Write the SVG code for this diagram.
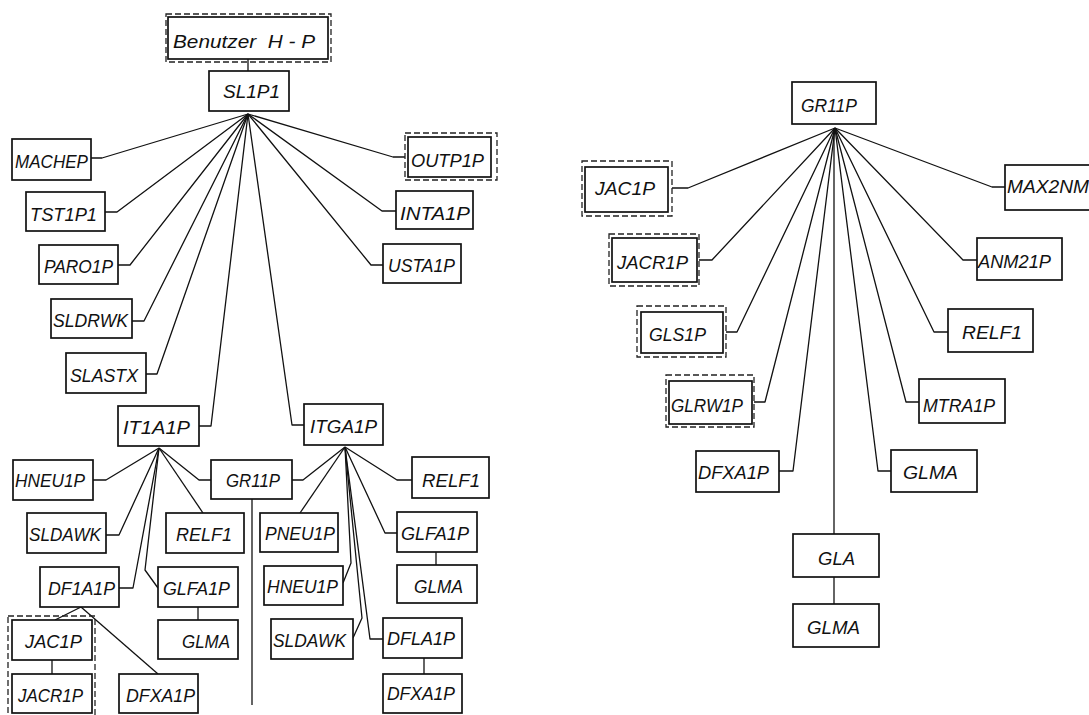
<svg xmlns="http://www.w3.org/2000/svg" width="1089" height="715" viewBox="0 0 1089 715">
<style>
.bg{fill:#fff}
.box{fill:#fff;stroke:#111;stroke-width:1.7}
.dash{fill:none;stroke:#222;stroke-width:1.3;stroke-dasharray:6 3}
.ln{fill:none;stroke:#111;stroke-width:1.3;stroke-linejoin:round}
text{font-family:"Liberation Sans",Arial,sans-serif;font-style:italic;font-size:19px;fill:#111}
</style>
<rect class="bg" x="0" y="0" width="1089" height="715"/>
<g id="connectors">
<polyline class="ln" points="248,59 248,71"/>
<polyline class="ln" points="248,114 102,158 91,158"/>
<polyline class="ln" points="248,114 117,212 105,212"/>
<polyline class="ln" points="248,114 130,265 118,265"/>
<polyline class="ln" points="248,114 144,321 132,321"/>
<polyline class="ln" points="248,114 157,374 146,374"/>
<polyline class="ln" points="248,114 211,426 199,426"/>
<polyline class="ln" points="248,114 292,425 304,425"/>
<polyline class="ln" points="248,114 371,265 383,265"/>
<polyline class="ln" points="248,114 382,211 396,211"/>
<polyline class="ln" points="248,114 393,157 405,157"/>
<polyline class="ln" points="159,448 106,480 93,480"/>
<polyline class="ln" points="159,448 199,480 211,480"/>
<polyline class="ln" points="159,448 119,535 106,535"/>
<polyline class="ln" points="159,448 203,513"/>
<polyline class="ln" points="159,448 133,588 119,588"/>
<polyline class="ln" points="159,448 145,570 158,588"/>
<polyline class="ln" points="198,607 198,620"/>
<polyline class="ln" points="81,607 55,620"/>
<polyline class="ln" points="81,607 158,674"/>
<polyline class="ln" points="52,660 52,674"/>
<polyline class="ln" points="252,499 252,705"/>
<polyline class="ln" points="345,447 303,480 292,480"/>
<polyline class="ln" points="345,447 300,513"/>
<polyline class="ln" points="345,447 397,480 412,480"/>
<polyline class="ln" points="345,447 385,533 397,533"/>
<polyline class="ln" points="436,552 436,565"/>
<polyline class="ln" points="345,447 351,563 343,583"/>
<polyline class="ln" points="345,447 362,618 353,638"/>
<polyline class="ln" points="345,447 370,639 383,639"/>
<polyline class="ln" points="424,658 424,674"/>
<polyline class="ln" points="835,128 688,188 672,188"/>
<polyline class="ln" points="835,128 712,260 699,260"/>
<polyline class="ln" points="835,128 737,332 726,332"/>
<polyline class="ln" points="835,128 765,402 754,402"/>
<polyline class="ln" points="835,128 793,471 779,471"/>
<polyline class="ln" points="834,128 834,534"/>
<polyline class="ln" points="835,128 878,471 891,471"/>
<polyline class="ln" points="835,128 906,402 919,402"/>
<polyline class="ln" points="835,128 934,332 948,332"/>
<polyline class="ln" points="835,128 963,260 977,260"/>
<polyline class="ln" points="835,128 992,187 1005,187"/>
<polyline class="ln" points="834,577 834,604"/>
</g>
<g id="benutzer"><rect class="dash" x="166" y="14" width="165" height="48"/><rect class="box" x="168" y="17" width="160" height="42"/><text x="173" y="48" xml:space="preserve" textLength="142" lengthAdjust="spacingAndGlyphs">Benutzer  H - P</text></g>
<g id="sl1p1"><rect class="box" x="209" y="71" width="80" height="40"/><text x="223" y="98" textLength="57" lengthAdjust="spacingAndGlyphs">SL1P1</text></g>
<g id="machep"><rect class="box" x="12" y="139" width="79" height="41"/><text x="15" y="168" textLength="73" lengthAdjust="spacingAndGlyphs">MACHEP</text></g>
<g id="tst1p1"><rect class="box" x="26" y="192" width="79" height="39"/><text x="30" y="221" textLength="67" lengthAdjust="spacingAndGlyphs">TST1P1</text></g>
<g id="paro1p"><rect class="box" x="39" y="245" width="79" height="39"/><text x="44" y="273" textLength="69" lengthAdjust="spacingAndGlyphs">PARO1P</text></g>
<g id="sldrwk"><rect class="box" x="51" y="299" width="81" height="39"/><text x="53" y="327" textLength="75" lengthAdjust="spacingAndGlyphs">SLDRWK</text></g>
<g id="slastx"><rect class="box" x="66" y="353" width="80" height="40"/><text x="70" y="382" textLength="68" lengthAdjust="spacingAndGlyphs">SLASTX</text></g>
<g id="outp1p"><rect class="dash" x="405" y="133" width="92" height="47"/><rect class="box" x="408" y="137" width="83" height="40"/><text x="411" y="167" textLength="73" lengthAdjust="spacingAndGlyphs">OUTP1P</text></g>
<g id="inta1p"><rect class="box" x="396" y="191" width="77" height="38"/><text x="400" y="220" textLength="70" lengthAdjust="spacingAndGlyphs">INTA1P</text></g>
<g id="usta1p"><rect class="box" x="383" y="244" width="78" height="39"/><text x="388" y="272" textLength="67" lengthAdjust="spacingAndGlyphs">USTA1P</text></g>
<g id="it1a1p"><rect class="box" x="118" y="406" width="81" height="40"/><text x="123" y="434" textLength="67" lengthAdjust="spacingAndGlyphs">IT1A1P</text></g>
<g id="itga1p"><rect class="box" x="304" y="404" width="79" height="41"/><text x="310" y="433" textLength="67" lengthAdjust="spacingAndGlyphs">ITGA1P</text></g>
<g id="hneu1p-a"><rect class="box" x="13" y="460" width="80" height="40"/><text x="15" y="487" textLength="70" lengthAdjust="spacingAndGlyphs">HNEU1P</text></g>
<g id="gr11p-a"><rect class="box" x="211" y="460" width="81" height="39"/><text x="226" y="487" textLength="54" lengthAdjust="spacingAndGlyphs">GR11P</text></g>
<g id="sldawk-a"><rect class="box" x="27" y="513" width="79" height="40"/><text x="29" y="541" textLength="72" lengthAdjust="spacingAndGlyphs">SLDAWK</text></g>
<g id="relf1-a"><rect class="box" x="166" y="513" width="78" height="40"/><text x="176" y="541" textLength="56" lengthAdjust="spacingAndGlyphs">RELF1</text></g>
<g id="df1a1p"><rect class="box" x="40" y="567" width="79" height="40"/><text x="48" y="595" textLength="67" lengthAdjust="spacingAndGlyphs">DF1A1P</text></g>
<g id="glfa1p-a"><rect class="box" x="158" y="567" width="80" height="40"/><text x="163" y="595" textLength="67" lengthAdjust="spacingAndGlyphs">GLFA1P</text></g>
<g id="glma-a"><rect class="box" x="158" y="620" width="80" height="39"/><text x="182" y="648" textLength="48" lengthAdjust="spacingAndGlyphs">GLMA</text></g>
<g id="jac-group"><rect class="dash" x="8" y="616" width="87" height="110"/></g>
<g id="jac1p-a"><rect class="box" x="12" y="620" width="80" height="40"/><text x="25" y="648" textLength="57" lengthAdjust="spacingAndGlyphs">JAC1P</text></g>
<g id="jacr1p-a"><rect class="box" x="12" y="674" width="80" height="39"/><text x="18" y="702" textLength="65" lengthAdjust="spacingAndGlyphs">JACR1P</text></g>
<g id="dfxa1p-a"><rect class="box" x="119" y="674" width="79" height="39"/><text x="126" y="702" textLength="69" lengthAdjust="spacingAndGlyphs">DFXA1P</text></g>
<g id="pneu1p"><rect class="box" x="260" y="513" width="78" height="39"/><text x="265" y="540" textLength="70" lengthAdjust="spacingAndGlyphs">PNEU1P</text></g>
<g id="relf1-b"><rect class="box" x="412" y="457" width="77" height="41"/><text x="422" y="487" textLength="58" lengthAdjust="spacingAndGlyphs">RELF1</text></g>
<g id="glfa1p-b"><rect class="box" x="397" y="512" width="80" height="40"/><text x="401" y="540" textLength="68" lengthAdjust="spacingAndGlyphs">GLFA1P</text></g>
<g id="glma-b"><rect class="box" x="397" y="565" width="80" height="38"/><text x="414" y="593" textLength="49" lengthAdjust="spacingAndGlyphs">GLMA</text></g>
<g id="hneu1p-b"><rect class="box" x="264" y="566" width="79" height="39"/><text x="267" y="593" textLength="71" lengthAdjust="spacingAndGlyphs">HNEU1P</text></g>
<g id="sldawk-b"><rect class="box" x="271" y="619" width="82" height="40"/><text x="273" y="647" textLength="73" lengthAdjust="spacingAndGlyphs">SLDAWK</text></g>
<g id="dfla1p"><rect class="box" x="383" y="618" width="79" height="40"/><text x="387" y="645" textLength="68" lengthAdjust="spacingAndGlyphs">DFLA1P</text></g>
<g id="dfxa1p-b"><rect class="box" x="383" y="674" width="79" height="39"/><text x="387" y="700" textLength="68" lengthAdjust="spacingAndGlyphs">DFXA1P</text></g>
<g id="gr11p-r"><rect class="box" x="792" y="82" width="84" height="42"/><text x="801" y="112" textLength="56" lengthAdjust="spacingAndGlyphs">GR11P</text></g>
<g id="jac1p-r"><rect class="dash" x="582" y="161" width="90" height="55"/><rect class="box" x="585" y="167" width="83" height="45"/><text x="595" y="195" textLength="60" lengthAdjust="spacingAndGlyphs">JAC1P</text></g>
<g id="jacr1p-r"><rect class="dash" x="609" y="234" width="90" height="52"/><rect class="box" x="612" y="238" width="85" height="44"/><text x="617" y="269" textLength="71" lengthAdjust="spacingAndGlyphs">JACR1P</text></g>
<g id="gls1p"><rect class="dash" x="637" y="306" width="89" height="51"/><rect class="box" x="641" y="312" width="82" height="41"/><text x="649" y="341" textLength="57" lengthAdjust="spacingAndGlyphs">GLS1P</text></g>
<g id="glrw1p"><rect class="dash" x="666" y="375" width="88" height="52"/><rect class="box" x="669" y="381" width="83" height="43"/><text x="671" y="412" textLength="72" lengthAdjust="spacingAndGlyphs">GLRW1P</text></g>
<g id="dfxa1p-r"><rect class="box" x="696" y="451" width="83" height="41"/><text x="698" y="479" textLength="71" lengthAdjust="spacingAndGlyphs">DFXA1P</text></g>
<g id="max2nm"><rect class="box" x="1005" y="165" width="100" height="45"/><text x="1007" y="193" textLength="82" lengthAdjust="spacingAndGlyphs">MAX2NM</text></g>
<g id="anm21p"><rect class="box" x="977" y="238" width="85" height="42"/><text x="978" y="268" textLength="73" lengthAdjust="spacingAndGlyphs">ANM21P</text></g>
<g id="relf1-r"><rect class="box" x="948" y="309" width="85" height="43"/><text x="962" y="339" textLength="60" lengthAdjust="spacingAndGlyphs">RELF1</text></g>
<g id="mtra1p"><rect class="box" x="919" y="379" width="86" height="44"/><text x="923" y="412" textLength="72" lengthAdjust="spacingAndGlyphs">MTRA1P</text></g>
<g id="glma-r1"><rect class="box" x="891" y="450" width="86" height="42"/><text x="903" y="479" textLength="55" lengthAdjust="spacingAndGlyphs">GLMA</text></g>
<g id="gla"><rect class="box" x="793" y="534" width="86" height="43"/><text x="818" y="565" textLength="37" lengthAdjust="spacingAndGlyphs">GLA</text></g>
<g id="glma-r2"><rect class="box" x="793" y="604" width="86" height="43"/><text x="807" y="634" textLength="53" lengthAdjust="spacingAndGlyphs">GLMA</text></g>
</svg>
